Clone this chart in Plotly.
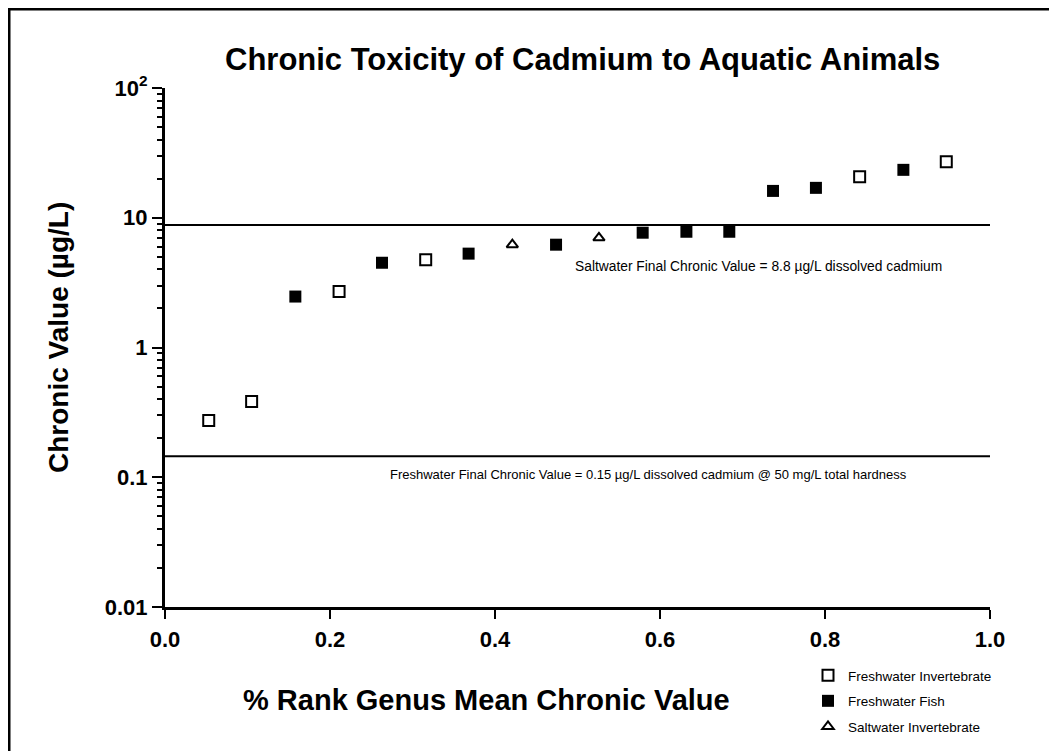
import plotly.graph_objects as go

# ---- data ----
rank = [0.053, 0.105, 0.158, 0.211, 0.263, 0.316, 0.368, 0.421, 0.474,
        0.526, 0.579, 0.632, 0.684, 0.737, 0.789, 0.842, 0.895, 0.947]
chronic = [0.274, 0.384, 2.47, 2.70, 4.5, 4.75, 5.29, 6.2, 6.2,
           7.0, 7.67, 7.8, 7.8, 16.1, 17.0, 20.7, 23.4, 27.0]
group = ["FI", "FI", "FF", "FI", "FF", "FI", "FF", "SI", "FF",
         "SI", "FF", "FF", "FF", "FF", "FF", "FI", "FF", "FI"]
group_names = {"FI": "Freshwater Invertebrate", "FF": "Freshwater Fish",
               "SI": "Saltwater Invertebrate"}
saltwater_fcv = 8.8
freshwater_fcv = 0.145
y_tickvals = [0.01, 0.1, 1, 10, 100]
y_ticktext = ["0.01", "0.1", "1", "10", "10<sup>2</sup>"]
x_tickvals = [0.0, 0.2, 0.4, 0.6, 0.8, 1.0]
x_ticktext = ["0.0", "0.2", "0.4", "0.6", "0.8", "1.0"]

FONT = "Liberation Sans, Arial, sans-serif"
W, H = 1057, 751
OFF = 8  # page body offset
# desired plot area on the page: x 165..990, y 88..607
L = 165 - OFF
T = 88 - OFF
R = W - (990 - OFF)
B = H - (607 - OFF)
pw, ph = W - L - R, H - T - B

def px(x):  # page pixel -> paper
    return (x - OFF - L) / pw

def py(y):
    return (H - B - (y - OFF)) / ph

fig = go.Figure()

# reference lines
fig.add_trace(go.Scatter(x=[0, 1.0], y=[saltwater_fcv] * 2, mode="lines",
                         line=dict(color="black", width=2), showlegend=False,
                         hoverinfo="skip"))
fig.add_trace(go.Scatter(x=[0, 1.0], y=[freshwater_fcv] * 2, mode="lines",
                         line=dict(color="black", width=2), showlegend=False,
                         hoverinfo="skip"))

styles = {
    "FI": dict(symbol="square-open", size=11, color="black", line=dict(width=2, color="black")),
    "FF": dict(symbol="square", size=12, color="black", line=dict(width=0)),
    "SI": dict(symbol="triangle-up-open", size=10, color="black", line=dict(width=2, color="black")),
}
for g in ["FI", "FF", "SI"]:
    xs = [x for x, gg in zip(rank, group) if gg == g]
    ys = [y for y, gg in zip(chronic, group) if gg == g]
    fig.add_trace(go.Scatter(x=xs, y=ys, mode="markers", name=group_names[g],
                             marker=styles[g], legendgroup=g))

annotations = [
    dict(text="<b>Chronic Toxicity of Cadmium to Aquatic Animals</b>",
         x=px(582), y=py(60), xref="paper", yref="paper", showarrow=False,
         font=dict(size=31, family=FONT, color="black"), xanchor="center", yanchor="middle"),
    dict(text="<b>Chronic Value (µg/L)</b>", textangle=-90,
         x=px(58), y=py(338), xref="paper", yref="paper", showarrow=False,
         font=dict(size=28, family=FONT, color="black"), xanchor="center", yanchor="middle"),
    dict(text="<b>% Rank Genus Mean Chronic Value</b>",
         x=px(486), y=py(700), xref="paper", yref="paper", showarrow=False,
         font=dict(size=29, family=FONT, color="black"), xanchor="center", yanchor="middle"),
    dict(text="Saltwater Final Chronic Value = 8.8 µg/L dissolved cadmium",
         x=px(758), y=py(266), xref="paper", yref="paper", showarrow=False,
         font=dict(size=13.8, family=FONT, color="black"), xanchor="center", yanchor="middle"),
    dict(text="Freshwater Final Chronic Value = 0.15 µg/L dissolved cadmium @ 50 mg/L total hardness",
         x=px(648), y=py(474), xref="paper", yref="paper", showarrow=False,
         font=dict(size=13, family=FONT, color="black"), xanchor="center", yanchor="middle"),
]

shapes = [
    dict(type="line", xref="paper", yref="paper", x0=px(8), x1=px(W + 20), y0=py(9), y1=py(9),
         line=dict(color="black", width=3)),
    dict(type="line", xref="paper", yref="paper", x0=px(9), x1=px(9), y0=py(9), y1=py(H + 20),
         line=dict(color="black", width=3)),
]

minor_vals = [m * 10 ** e for e in range(-2, 2) for m in range(2, 10)]

fig.update_layout(
    width=W, height=H,
    margin=dict(l=L, r=R, t=T, b=B, autoexpand=False),
    paper_bgcolor="white", plot_bgcolor="white",
    font=dict(family=FONT, color="black"),
    annotations=annotations, shapes=shapes,
    legend=dict(x=px(808), y=py(660), xanchor="left", yanchor="top",
                font=dict(size=13.5, family=FONT, color="black"),
                bgcolor="rgba(0,0,0,0)", traceorder="grouped", tracegroupgap=5,
                itemwidth=30),
    showlegend=True,
)
fig.update_xaxes(range=[0, 1.0], tickvals=x_tickvals,
                 ticktext=["<b>%s</b>" % t for t in x_ticktext],
                 showgrid=False, zeroline=False, showline=True, linecolor="black",
                 linewidth=3, ticks="outside", ticklen=9, tickwidth=2, tickcolor="black",
                 tickfont=dict(size=22, family=FONT, color="black"), ticklabelstandoff=2)
fig.update_yaxes(type="log", range=[-2, 2], tickvals=y_tickvals,
                 ticktext=["<b>%s</b>" % t for t in y_ticktext],
                 showgrid=False, zeroline=False, showline=True, linecolor="black",
                 linewidth=3, ticks="outside", ticklen=10, tickwidth=2, tickcolor="black",
                 tickfont=dict(size=22, family=FONT, color="black"),
                 minor=dict(tickvals=minor_vals, ticks="outside", ticklen=5,
                            tickwidth=2, tickcolor="black", showgrid=False))

fig.write_html("out.html")
